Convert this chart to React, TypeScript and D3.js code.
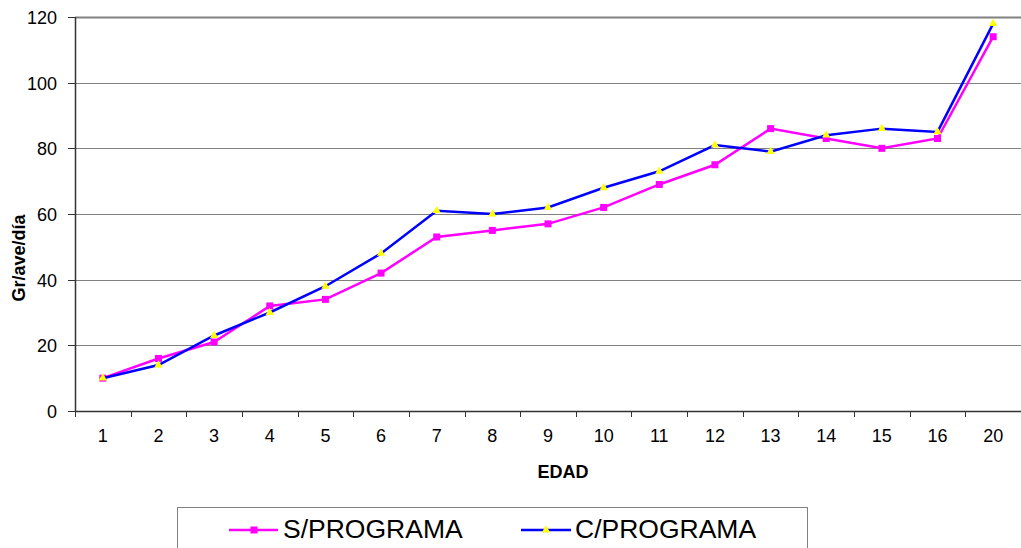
import React from "react";
import * as d3 from "d3";

const categories = ["1", "2", "3", "4", "5", "6", "7", "8", "9", "10", "11", "12", "13", "14", "15", "16", "20"];
const sPrograma = [10, 16, 21, 32, 34, 42, 53, 55, 57, 62, 69, 75, 86, 83, 80, 83, 114];
const cPrograma = [10, 14, 23, 30, 38, 48, 61, 60, 62, 68, 73, 81, 79, 84, 86, 85, 118];
const yTicks = [0, 20, 40, 60, 80, 100, 120];
const seriesNames = ["S/PROGRAMA", "C/PROGRAMA"];

const W = 1021;
const H = 548;
const left = 75;
const right = 1021;
const top = 17;
const bottom = 411;
const FONT = "'Liberation Sans', Arial, sans-serif";

export default function App() {
  const x = d3.scaleBand<string>().domain(categories).range([left, right]).padding(0);
  const y = d3.scaleLinear().domain([0, 120]).range([bottom, top]);
  const cx = (c: string) => (x(c) as number) + x.bandwidth() / 2;

  const line = d3
    .line<number>()
    .x((_, i) => cx(categories[i]))
    .y((d) => y(d));

  const sq = 7;
  const tri = d3.symbol().type(d3.symbolTriangle).size(30)() as string;

  const boundaries = categories.map((c) => x(c) as number).concat([right]);

  return (
    <svg
      width={W}
      height={H}
      style={{ position: "absolute", left: 0, top: 0, background: "#fff" }}
      fontFamily={FONT}
    >
      {/* grid lines */}
      {yTicks.filter((t) => t > 0).map((t) => (
        <line
          key={"g" + t}
          x1={left}
          x2={right}
          y1={Math.round(y(t)) + 0.5}
          y2={Math.round(y(t)) + 0.5}
          stroke="#808080"
          strokeWidth={t === 120 ? 2 : 1}
        />
      ))}
      {/* y axis */}
      <line x1={left + 0.5} x2={left + 0.5} y1={top} y2={bottom} stroke="#333" strokeWidth={1.5} />
      {yTicks.map((t) => (
        <g key={"yt" + t}>
          <line x1={68} x2={left} y1={Math.round(y(t)) + 0.5} y2={Math.round(y(t)) + 0.5} stroke="#333" />
          <text x={57} y={y(t) + 7} textAnchor="end" fontSize={18} fill="#000">
            {t}
          </text>
        </g>
      ))}
      {/* x axis */}
      <line x1={left} x2={right} y1={bottom + 0.5} y2={bottom + 0.5} stroke="#333" strokeWidth={1.5} />
      {boundaries.map((b, i) => (
        <line key={"xt" + i} x1={Math.round(b) + 0.5} x2={Math.round(b) + 0.5} y1={bottom} y2={417} stroke="#333" />
      ))}
      {categories.map((c) => (
        <text key={"xl" + c} x={cx(c)} y={442} textAnchor="middle" fontSize={18} fill="#000">
          {c}
        </text>
      ))}
      <text x={563} y={478} textAnchor="middle" fontSize={18} fontWeight="bold" fill="#000">
        EDAD
      </text>
      <text
        transform={`translate(25,258) rotate(-90)`}
        textAnchor="middle"
        fontSize={18}
        fontWeight="bold"
        fill="#000"
      >
        Gr/ave/día
      </text>

      {/* series */}
      <path d={line(sPrograma) as string} fill="none" stroke="#FF00FF" strokeWidth={2.5} />
      {sPrograma.map((v, i) => (
        <rect
          key={"s" + i}
          x={cx(categories[i]) - sq / 2}
          y={y(v) - sq / 2}
          width={sq}
          height={sq}
          fill="#FF00FF"
        />
      ))}
      <path d={line(cPrograma) as string} fill="none" stroke="#0000FF" strokeWidth={2.5} />
      {cPrograma.map((v, i) => (
        <path
          key={"c" + i}
          d={tri}
          transform={`translate(${cx(categories[i])},${y(v)})`}
          fill="#FFFF00"
        />
      ))}

      {/* legend */}
      <rect x={177.5} y={507.5} width={630} height={60} fill="#fff" stroke="#808080" strokeWidth={1} />
      <line x1={229} x2={278} y1={530} y2={530} stroke="#FF00FF" strokeWidth={2.5} />
      <rect x={254 - sq / 2} y={530 - sq / 2} width={sq} height={sq} fill="#FF00FF" />
      <text x={283} y={538} fontSize={26.5} fill="#000">
        {seriesNames[0]}
      </text>
      <line x1={521} x2={571} y1={530} y2={530} stroke="#0000FF" strokeWidth={2.5} />
      <path d={tri} transform="translate(546,530)" fill="#FFFF00" />
      <text x={575} y={538} fontSize={26.5} fill="#000">
        {seriesNames[1]}
      </text>
    </svg>
  );
}
